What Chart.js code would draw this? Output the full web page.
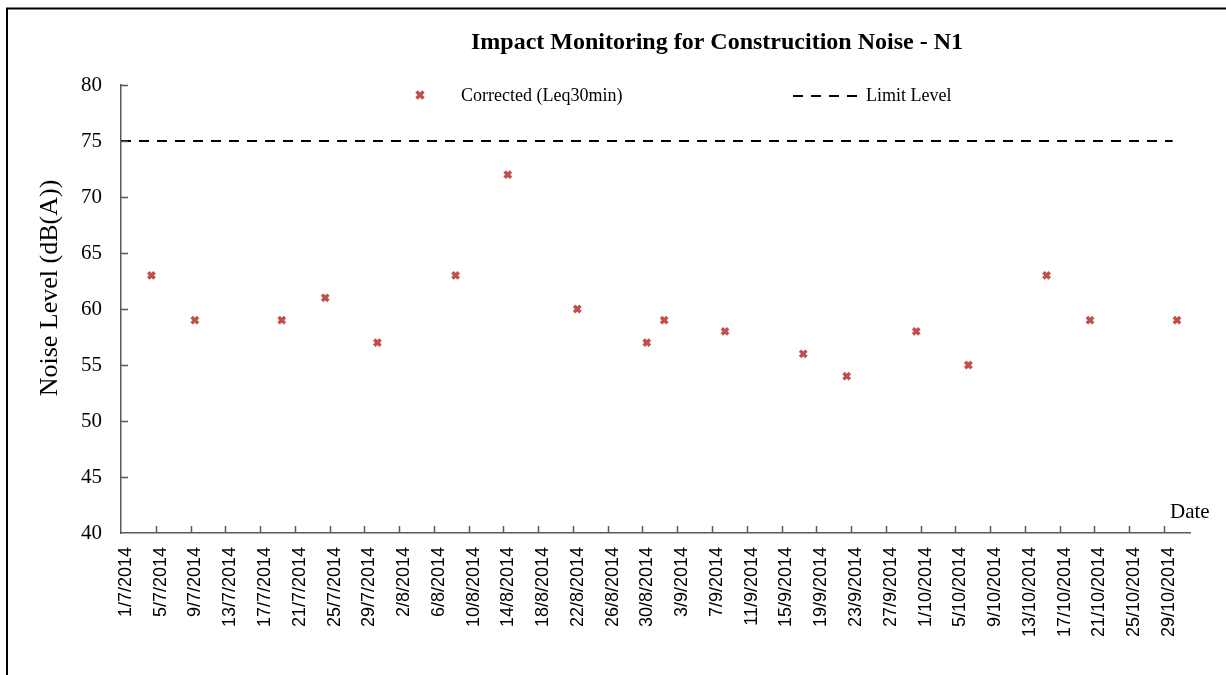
<!DOCTYPE html>
<html>
<head>
<meta charset="utf-8">
<title>Impact Monitoring for Construcition Noise - N1</title>
<script src="https://cdn.jsdelivr.net/npm/chart.js@4.4.1/dist/chart.umd.min.js"></script>
<style>
    html, body { margin: 0; padding: 0; background: #ffffff; }
    #wrap { position: relative; width: 1226px; height: 675px; }
</style>
</head>
<body>
<div id="wrap"><canvas id="noiseChart"></canvas></div>
<script>

// measured dates (d/m/yyyy) and corrected Leq30min levels, dB(A)
const measureDates = [
    "4/7/2014", "9/7/2014", "19/7/2014", "24/7/2014", "30/7/2014",
    "8/8/2014", "14/8/2014", "22/8/2014", "30/8/2014", "1/9/2014",
    "8/9/2014", "17/9/2014", "22/9/2014", "30/9/2014", "6/10/2014",
    "15/10/2014", "20/10/2014", "30/10/2014"
];

const correctedLevels = [
    63, 59, 59, 61, 57,
    63, 72, 60, 57, 59,
    58, 56, 54, 58, 55,
    63, 59, 59
];

const limitDates = ["1/7/2014", "30/10/2014"];

const limitLevels = [75, 75];

const axisStart = "1/7/2014";

const axisEnd = "1/11/2014";

const tickLabels = [
    "1/7/2014", "5/7/2014", "9/7/2014", "13/7/2014", "17/7/2014",
    "21/7/2014", "25/7/2014", "29/7/2014", "2/8/2014", "6/8/2014",
    "10/8/2014", "14/8/2014", "18/8/2014", "22/8/2014", "26/8/2014",
    "30/8/2014", "3/9/2014", "7/9/2014", "11/9/2014", "15/9/2014",
    "19/9/2014", "23/9/2014", "27/9/2014", "1/10/2014", "5/10/2014",
    "9/10/2014", "13/10/2014", "17/10/2014", "21/10/2014", "25/10/2014",
    "29/10/2014"
];

const SERIES_COLOR = "#C0504D";
const AXIS_COLOR = "#595959";
const SERIF = "'Liberation Serif', 'Times New Roman', serif";

function toUTC(label) {
    const [d, m, y] = label.split("/").map(Number);
    return Date.UTC(y, m - 1, d);
}

function dayIndex(label) {
    return (toUTC(label) - toUTC(axisStart)) / 86400000;
}

function drawCross(ctx, x, y, r) {
    ctx.save();
    ctx.strokeStyle = SERIES_COLOR;
    ctx.lineWidth = 3.5;
    ctx.beginPath();
    ctx.moveTo(x - r, y - r);
    ctx.lineTo(x + r, y + r);
    ctx.moveTo(x + r, y - r);
    ctx.lineTo(x - r, y + r);
    ctx.stroke();
    ctx.restore();
}

// title, legend, axis titles, inside tick marks and frame
const decor = {
    id: "decor",
    afterDraw(chart) {
        const ctx = chart.ctx;
        const area = chart.chartArea;
        const xs = chart.scales.x;
        const ys = chart.scales.y;

        ctx.save();

        // frame
        ctx.strokeStyle = "#000000";
        ctx.lineWidth = 2;
        ctx.beginPath();
        ctx.moveTo(7, 675);
        ctx.lineTo(7, 8.5);
        ctx.lineTo(1226, 8.5);
        ctx.stroke();

        // inside tick marks
        ctx.strokeStyle = AXIS_COLOR;
        ctx.lineWidth = 1.5;
        ctx.beginPath();
        ys.ticks.forEach(t => {
            if (t.value === ys.min) return;
            const py = Math.round(ys.getPixelForValue(t.value)) + 0.5;
            ctx.moveTo(area.left, py);
            ctx.lineTo(area.left + 7, py);
        });
        xs.ticks.forEach(t => {
            if (t.value === xs.min) return;
            const px = Math.round(xs.getPixelForValue(t.value)) + 0.5;
            ctx.moveTo(px, area.bottom);
            ctx.lineTo(px, area.bottom - 7);
        });
        ctx.stroke();

        ctx.fillStyle = "#000000";
        ctx.textBaseline = "middle";

        // chart title
        ctx.font = "bold 24px " + SERIF;
        ctx.textAlign = "center";
        ctx.fillText("Impact Monitoring for Construcition Noise - N1", 717, 43);

        // legend
        ctx.font = "18px " + SERIF;
        ctx.textAlign = "left";
        drawCross(ctx, 420, 95, 3.5);
        ctx.fillText(chart.data.datasets[0].label, 461, 96);

        ctx.strokeStyle = "#000000";
        ctx.lineWidth = 2;
        ctx.setLineDash([10, 8]);
        ctx.beginPath();
        ctx.moveTo(793, 96);
        ctx.lineTo(858, 96);
        ctx.stroke();
        ctx.setLineDash([]);
        ctx.fillText(chart.data.datasets[1].label, 866, 96);

        // x axis title
        ctx.font = "21px " + SERIF;
        ctx.fillText("Date", 1170, 512);

        // y axis title
        ctx.translate(50, 288);
        ctx.rotate(-Math.PI / 2);
        ctx.textAlign = "center";
        ctx.font = "26px " + SERIF;
        ctx.fillText("Noise Level (dB(A))", 0, 0);

        ctx.restore();
    }
};

const correctedPoints = measureDates.map((d, i) => ({
    x: dayIndex(d) + 0.5,
    y: correctedLevels[i]
}));

const limitPoints = limitDates.map((d, i) => ({
    x: dayIndex(d),
    y: limitLevels[i]
}));

new Chart(document.getElementById("noiseChart"), {

    type: "scatter",

    data: {
        datasets: [
            {
                label: "Corrected (Leq30min)",
                data: correctedPoints,
                showLine: false,
                pointStyle: "crossRot",
                pointRadius: 4.5,
                pointBorderWidth: 3.5,
                borderColor: SERIES_COLOR,
                backgroundColor: SERIES_COLOR
            },
            {
                label: "Limit Level",
                data: limitPoints,
                showLine: true,
                borderColor: "#000000",
                borderWidth: 2,
                borderDash: [10, 8],
                pointRadius: 0
            }
        ]
    },

    options: {
        responsive: true,
        maintainAspectRatio: false,
        animation: false,
        layout: {
            padding: { top: 85, right: 36, bottom: 0, left: 0 }
        },
        plugins: {
            legend: { display: false },
            title: { display: false },
            tooltip: { enabled: false }
        },
        scales: {
            x: {
                type: "linear",
                min: 0,
                max: dayIndex(axisEnd),
                afterFit: scale => { scale.height = 142; },
                grid: { display: false, drawTicks: false },
                border: { display: true, color: AXIS_COLOR, width: 1.5 },
                ticks: {
                    stepSize: 4,
                    includeBounds: false,
                    autoSkip: false,
                    maxTicksLimit: 40,
                    minRotation: 90,
                    maxRotation: 90,
                    padding: 14,
                    labelOffset: 5,
                    color: "#000000",
                    font: { family: "'Liberation Sans', Arial, sans-serif", size: 18 },
                    callback: value => tickLabels[value / 4] || ""
                }
            },
            y: {
                min: 40,
                max: 80,
                afterFit: scale => { scale.width = 121; },
                grid: { display: false, drawTicks: false },
                border: { display: true, color: AXIS_COLOR, width: 1.5 },
                ticks: {
                    stepSize: 5,
                    padding: 19,
                    color: "#000000",
                    font: { family: SERIF, size: 21 }
                }
            }
        }
    },

    plugins: [decor]
});

</script>
</body>
</html>
